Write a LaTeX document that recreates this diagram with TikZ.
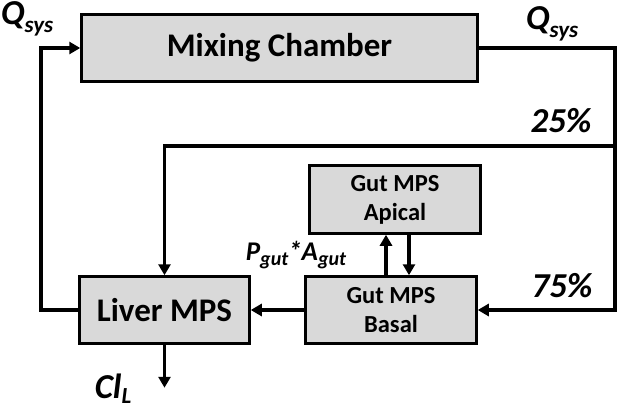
\documentclass[tikz,border=0pt]{standalone}
\usepackage{fontspec}
\setmainfont{Carlito}
\usetikzlibrary{positioning, arrows.meta}
\definecolor{ink}{HTML}{000000}
\definecolor{boxfill}{HTML}{D9D9D9}
\newcommand{\BigF}{\fontsize{33}{36}\selectfont}
\newcommand{\MidF}{\fontsize{24.5}{29}\selectfont}
\newcommand{\LblF}{\fontsize{35}{38}\selectfont}
\newcommand{\flowsub}[2]{\raisebox{-0.45ex}{\fontsize{#1}{#1}\selectfont #2}}

\begin{document}
\begin{tikzpicture}[x=1pt,y=-1pt,
  compart/.style={draw=ink, fill=boxfill, line width=2.5pt, inner sep=0pt, align=center},
  flow/.style={draw=ink, line width=3.3pt, -{Triangle[length=11pt,width=12pt]}},
  lbl/.style={font=\LblF\bfseries\itshape, text=ink, inner sep=0pt}]
\useasboundingbox (0,0) rectangle (624,412);
\node[compart, minimum width=396pt, minimum height=67pt, font=\BigF\bfseries] (mix) at (279.5,48) {Mixing Chamber};
\node[compart, minimum width=171pt, minimum height=68pt, font=\MidF\bfseries] (apical) at (395,199.5) {Gut MPS\\Apical};
\node[compart, minimum width=171pt, minimum height=67pt, font=\MidF\bfseries] (basal) at (391,310) {Gut MPS\\Basal};
\node[compart, minimum width=170pt, minimum height=67pt, font=\BigF\bfseries] (liver) at (164.5,310) {Liver MPS};
\coordinate (retcorner) at (41,310);
\coordinate (outcorner) at (615,48);
\coordinate (split) at (615,146);
\coordinate (clend) at ([yshift=-43pt]liver.south);
\draw[flow] (liver.west) -- (retcorner) |- (mix.west);
\draw[flow] (mix.east) -- (outcorner) |- (basal.east);
\draw[flow] (split) -| (liver.north);
\draw[flow] ([xshift=-5pt]basal.north) -- ([xshift=-5pt]basal.north |- apical.south);
\draw[flow] ([xshift=18pt]basal.north |- apical.south) -- ([xshift=18pt]basal.north);
\draw[flow] (basal.west) -- (liver.east);
\draw[flow] (liver.south) -- (clend);
\node[lbl] (qin) at (27,19) {Q\flowsub{23}{sys}};
\node[lbl] (qout) at (552,24) {Q\flowsub{23}{sys}};
\node[lbl] (split25) at (561,121) {25\%};
\node[lbl] (split75) at (562,286) {75\%};
\node[lbl, font=\fontsize{27}{30}\selectfont\bfseries\itshape] (perm) at (296,255) {P\flowsub{20}{gut}*A\flowsub{20}{gut}};
\node[lbl] (clear) at (113,389) {Cl\raisebox{-0.3ex}{\fontsize{23}{23}\selectfont L}};
\end{tikzpicture}
\end{document}
